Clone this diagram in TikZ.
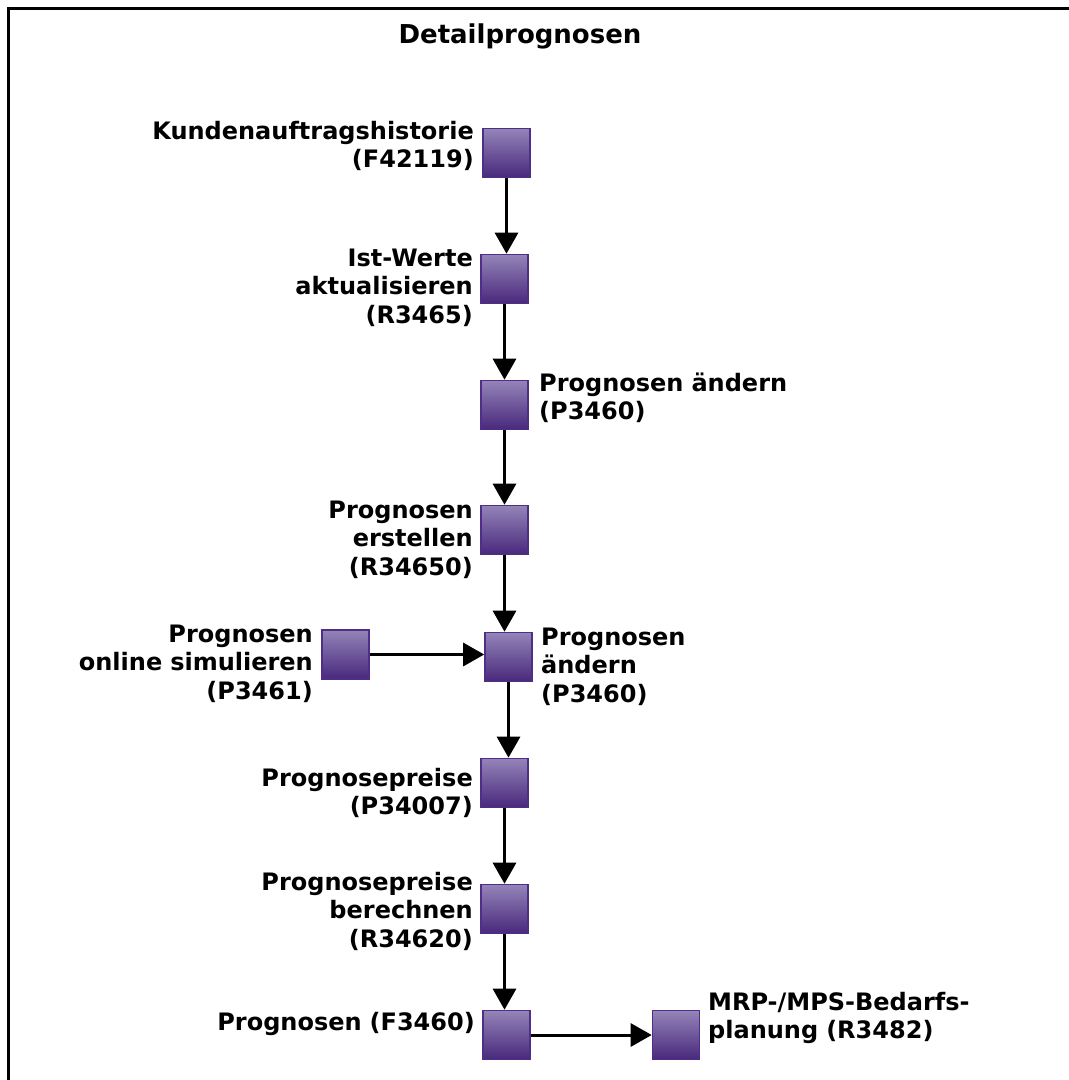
\documentclass[tikz,border=0pt]{standalone}
\usepackage{fontspec}
\setmainfont{DejaVu Sans}
\usetikzlibrary{arrows.meta}
\definecolor{boxline}{RGB}{78,46,134}
\definecolor{boxtop}{RGB}{148,132,184}
\definecolor{boxbottom}{RGB}{72,40,124}
\begin{document}
\begin{tikzpicture}[x=1pt,y=-1pt,
  every node/.style={font=\fontsize{24}{28.5}\selectfont\bfseries, inner sep=0pt},
  procbox/.style={draw=boxline, line width=1.6pt, minimum width=47pt, minimum height=49pt,
    top color=boxtop, bottom color=boxbottom, shading angle=0},
  lblleft/.style={anchor=base east, text width=340pt, align=right},
  lblright/.style={anchor=base west, text width=340pt, align=left},
  flow/.style={line width=3pt, -{Triangle[width=23pt,length=21pt]}}]
  \useasboundingbox (0,0) rectangle (1069,1080);
  % frame
  \draw[line width=3pt] (8.5,1080) -- (8.5,8.5) -- (1069,8.5);
  % title
  \node[anchor=base, font=\fontsize{26}{30}\selectfont\bfseries] (title) at (520,43) {Detailprognosen};
  % process boxes
  \node[procbox] (b1) at (506.5,153) {};
  \node[procbox] (b2) at (504.5,279) {};
  \node[procbox] (b3) at (504.5,405) {};
  \node[procbox] (b4) at (504.5,530) {};
  \node[procbox] (b5) at (508.5,657) {};
  \node[procbox] (bs) at (345.5,654.5) {};
  \node[procbox] (b6) at (504.5,783) {};
  \node[procbox] (b7) at (504.5,909) {};
  \node[procbox] (b8) at (506.5,1035) {};
  \node[procbox] (b9) at (676,1035) {};
  % labels
  \node[lblleft] (l1) at (474,139) {Kundenauftragshistorie\\(F42119)};
  \node[lblleft] (l2) at (473,266) {Ist-Werte\\aktualisieren\\(R3465)};
  \node[lblright] (l3) at (539,391) {Prognosen ändern\\(P3460)};
  \node[lblleft] (l4) at (473,518) {Prognosen\\erstellen\\(R34650)};
  \node[lblleft] (ls) at (313,642) {Prognosen\\online simulieren\\(P3461)};
  \node[lblright] (l5) at (541,645) {Prognosen\\ändern\\(P3460)};
  \node[lblleft] (l6) at (473,786) {Prognosepreise\\(P34007)};
  \node[lblleft] (l7) at (473,890) {Prognosepreise\\berechnen\\(R34620)};
  \node[lblleft] (l8) at (475,1030) {Prognosen (F3460)};
  \node[lblright] (l9) at (708,1010) {MRP-/MPS-Bedarfs-\\planung (R3482)};
  % connectors
  \draw[flow] (b1.south) -- (b1.south |- b2.north);
  \draw[flow] (b2.south) -- (b2.south |- b3.north);
  \draw[flow] (b3.south) -- (b3.south |- b4.north);
  \draw[flow] (b4.south) -- (b4.south |- b5.north);
  \draw[flow] (bs.east) -- (bs.east -| b5.west);
  \draw[flow] (b5.south) -- (b5.south |- b6.north);
  \draw[flow] (b6.south) -- (b6.south |- b7.north);
  \draw[flow] (b7.south) -- (b7.south |- b8.north);
  \draw[flow] (b8.east) -- (b9.west);
\end{tikzpicture}
\end{document}
